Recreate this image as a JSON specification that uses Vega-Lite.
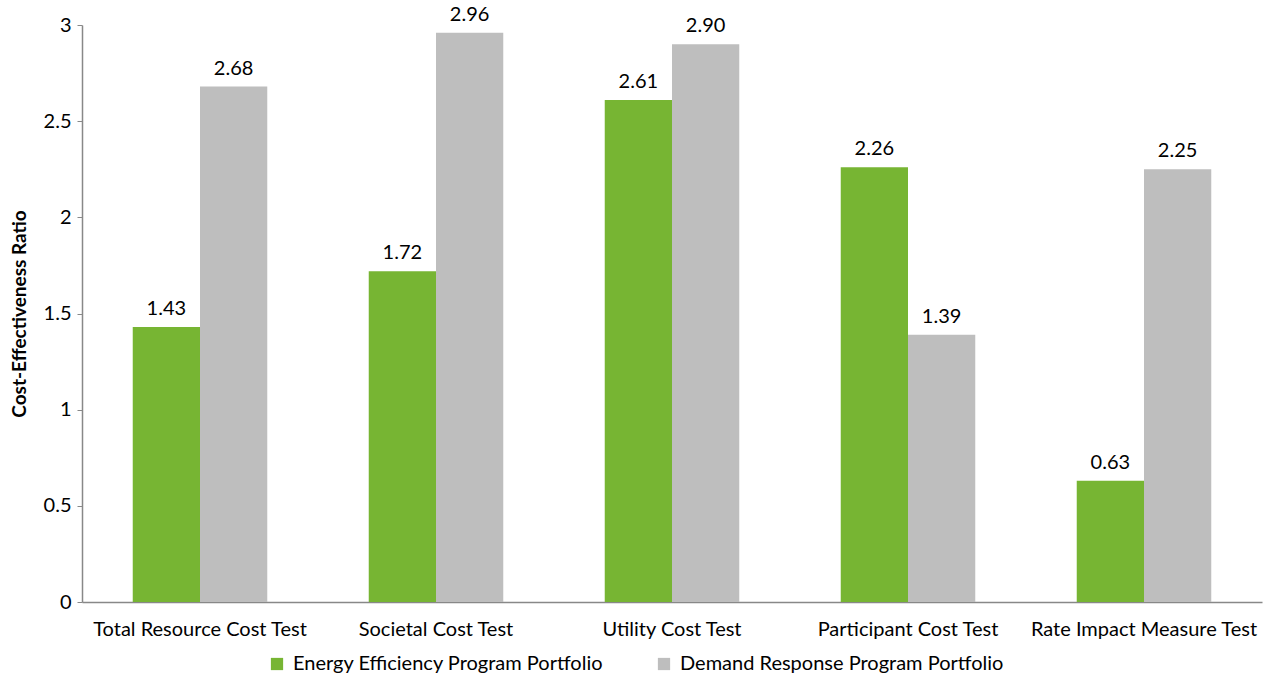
{
  "$schema": "https://vega.github.io/schema/vega-lite/v6.json",
  "width": 1180,
  "height": 577,
  "autosize": {"type": "none"},
  "padding": {"left": 82, "top": 25, "right": 1, "bottom": 75},
  "background": "white",
  "config": {
    "view": {"stroke": null},
    "font": "Lato",
    "axis": {"labelFont": "Lato", "titleFont": "Lato", "labelColor": "#000", "titleColor": "#000"}
  },
  "data": {
    "values": [
      {"test": "Total Resource Cost Test", "portfolio": "Energy Efficiency Program Portfolio", "value": 1.43},
      {"test": "Total Resource Cost Test", "portfolio": "Demand Response Program Portfolio", "value": 2.68},
      {"test": "Societal Cost Test", "portfolio": "Energy Efficiency Program Portfolio", "value": 1.72},
      {"test": "Societal Cost Test", "portfolio": "Demand Response Program Portfolio", "value": 2.96},
      {"test": "Utility Cost Test", "portfolio": "Energy Efficiency Program Portfolio", "value": 2.61},
      {"test": "Utility Cost Test", "portfolio": "Demand Response Program Portfolio", "value": 2.90},
      {"test": "Participant Cost Test", "portfolio": "Energy Efficiency Program Portfolio", "value": 2.26},
      {"test": "Participant Cost Test", "portfolio": "Demand Response Program Portfolio", "value": 1.39},
      {"test": "Rate Impact Measure Test", "portfolio": "Energy Efficiency Program Portfolio", "value": 0.63},
      {"test": "Rate Impact Measure Test", "portfolio": "Demand Response Program Portfolio", "value": 2.25}
    ]
  },
  "encoding": {
    "x": {
      "field": "test", "type": "nominal", "sort": null,
      "scale": {"paddingInner": 0.43, "paddingOuter": 0.215},
      "axis": {"title": null, "labelAngle": 0, "labelFontSize": 20, "labelLimit": 0, "labelPadding": 17, "ticks": false, "domainColor": "#888", "domainWidth": 1.5}
    },
    "xOffset": {
      "field": "portfolio", "type": "nominal",
      "sort": ["Energy Efficiency Program Portfolio", "Demand Response Program Portfolio"],
      "scale": {"paddingInner": 0, "paddingOuter": 0}
    },
    "y": {
      "field": "value", "type": "quantitative",
      "scale": {"domain": [0, 3], "nice": false},
      "axis": {"title": "Cost-Effectiveness Ratio", "titleFontSize": 19, "titleFontWeight": "bold", "titlePadding": 14, "format": ".1~f",
               "values": [0, 0.5, 1, 1.5, 2, 2.5, 3], "labelFontSize": 20, "labelPadding": 6, "grid": false,
               "tickColor": "#888", "tickSize": 5, "domainColor": "#888", "domainWidth": 1.5}
    }
  },
  "layer": [
    {
      "mark": {"type": "bar"},
      "encoding": {
        "color": {
          "field": "portfolio", "type": "nominal",
          "sort": ["Energy Efficiency Program Portfolio", "Demand Response Program Portfolio"],
          "scale": {"domain": ["Energy Efficiency Program Portfolio", "Demand Response Program Portfolio"], "range": ["#77B533", "#BEBEBE"]},
          "legend": {"title": null, "orient": "none", "legendX": 185, "legendY": 629, "direction": "horizontal", "labelFontSize": 20, "labelLimit": 0, "symbolType": "square", "symbolSize": 150, "symbolStrokeWidth": 0, "symbolOpacity": 1, "columnPadding": 50, "labelOffset": 6, "labelColor": "#000"}
        }
      }
    },
    {
      "mark": {"type": "text", "baseline": "bottom", "dy": -8, "fontSize": 20, "color": "#000"},
      "encoding": {
        "text": {"field": "value", "type": "quantitative", "format": ".2f"}
      }
    }
  ]
}
